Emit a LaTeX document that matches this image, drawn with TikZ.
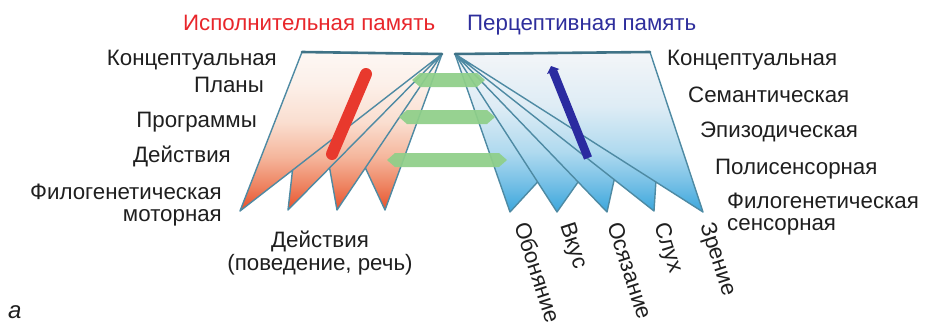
\documentclass[tikz,border=0pt]{standalone}
\usepackage{fontspec}
\setmainfont{Liberation Sans}
\usetikzlibrary{calc,arrows.meta}

\definecolor{foldline}{HTML}{4E8AA3}
\definecolor{rimline}{HTML}{3F7286}
\definecolor{execred}{HTML}{E8262B}
\definecolor{percblue}{HTML}{2E2E9C}
\definecolor{barred}{HTML}{E8392D}
\definecolor{barblue}{HTML}{2B2BA0}
\definecolor{bargreen}{HTML}{8FCF89}

% vertical colour ramps of the two fans (bottom to top)
\pgfdeclareverticalshading{warmramp}{100bp}{%
  color(0bp)=(rgb,255:red,232;green,78;blue,40);
  color(25bp)=(rgb,255:red,232;green,78;blue,40);
  color(33bp)=(rgb,255:red,238;green,132;blue,98);
  color(42bp)=(rgb,255:red,245;green,182;blue,156);
  color(53bp)=(rgb,255:red,250;green,222;blue,208);
  color(65bp)=(rgb,255:red,252;green,240;blue,233);
  color(75bp)=(rgb,255:red,253;green,247;blue,244);
  color(100bp)=(rgb,255:red,253;green,247;blue,244)}
\pgfdeclareverticalshading{coolramp}{100bp}{%
  color(0bp)=(rgb,255:red,58;green,166;blue,220);
  color(25bp)=(rgb,255:red,58;green,166;blue,220);
  color(34bp)=(rgb,255:red,118;green,192;blue,230);
  color(44bp)=(rgb,255:red,176;green,218;blue,239);
  color(58bp)=(rgb,255:red,222;green,236;blue,245);
  color(75bp)=(rgb,255:red,243;green,245;blue,248);
  color(100bp)=(rgb,255:red,243;green,245;blue,248)}

\begin{document}
\begin{tikzpicture}[x=1pt,y=-1pt,
  lbl/.style={inner sep=0pt, font=\fontsize{22.3}{26}\selectfont, text=black!88},
  title/.style={lbl},
  fold/.style={draw=foldline, line width=1.4pt, line join=round},
  rim/.style={draw=rimline, line width=2.6pt, line cap=round},
  greenbar/.style={fill=bargreen, draw=none, opacity=0.93},
  sense/.style={lbl, rotate=-72, anchor=base west}]

\useasboundingbox (0,0) rectangle (927,322);

% ---------- executive (left) fan ----------
\coordinate (LA) at (442,54);
\coordinate (LC) at (302,52);
\coordinate (L1) at (240,211);
\coordinate (L2) at (288,210);
\coordinate (L3) at (337,210);
\coordinate (L4) at (385,210);
\coordinate (LV2) at ($(L1)!0.26!(LA)$);
\coordinate (LV3) at ($(L2)!0.27!(LA)$);
\coordinate (LV4) at ($(L3)!0.27!(LA)$);

\shade[shading=warmramp] (LC) -- (LA) -- (L4) -- (LV4) -- (L3) -- (LV3) -- (L2) -- (LV2) -- (L1) -- cycle;
\draw[fold] (LA) -- (L4) -- (LV4) -- (L3) -- (LV3) -- (L2) -- (LV2) -- (L1) -- (LC);
\draw[fold] (LV2) -- (LA) (LV3) -- (LA) (LV4) -- (LA);
\draw[rim] (LC) -- (LA);

% ---------- perceptive (right) fan ----------
\coordinate (RA) at (455,54);
\coordinate (RC) at (650,52);
\coordinate (R1) at (510,212);
\coordinate (R2) at (557,212);
\coordinate (R3) at (607,212);
\coordinate (R4) at (654,211);
\coordinate (R5) at (703,212);
\coordinate (RV1) at ($(R2)!0.19!(RA)$);
\coordinate (RV2) at ($(R3)!0.19!(RA)$);
\coordinate (RV3) at ($(R4)!0.2!(RA)$);
\coordinate (RV4) at ($(R5)!0.19!(RA)$);

\shade[shading=coolramp] (RA) -- (RC) -- (R5) -- (RV4) -- (R4) -- (RV3) -- (R3) -- (RV2) -- (R2) -- (RV1) -- (R1) -- cycle;
\draw[fold] (RA) -- (R1) -- (RV1) -- (R2) -- (RV2) -- (R3) -- (RV3) -- (R4) -- (RV4) -- (R5) -- (RC);
\draw[fold] (RV1) -- (RA) (RV2) -- (RA) (RV3) -- (RA) (RV4) -- (RA);
\draw[rim] (RA) -- (RC);

% ---------- links between the two memories ----------
\fill[greenbar] (412,80) -- (420,73) -- (477,73) -- (485,80) -- (477,87) -- (420,87) -- cycle;
\fill[greenbar] (399,117) -- (407,110) -- (487,110) -- (495,117) -- (487,124) -- (407,124) -- cycle;
\fill[greenbar] (387,160) -- (395,153) -- (499,153) -- (507,160) -- (499,167) -- (395,167) -- cycle;

% ---------- hierarchy arrows ----------
\coordinate (redlo) at (332,154);
\coordinate (redhi) at (366,74);
\draw[barred, line width=12pt, line cap=round] (redlo) -- (redhi);
\coordinate (bluelo) at (588,158);
\coordinate (bluehi) at (551,66);
\draw[barblue, line width=8.5pt, -{Triangle[width=13pt,length=6pt]}] (bluelo) -- (bluehi);

% ---------- titles ----------
\node[title, text=execred, anchor=base west] (exec) at (183,30) {Исполнительная память};
\node[title, text=percblue, anchor=base west] (perc) at (467,30) {Перцептивная память};

% ---------- left levels ----------
\node[lbl, anchor=base east] (lconc) at (277,65) {Концептуальная};
\node[lbl, anchor=base east] (lplan) at (264,92) {Планы};
\node[lbl, anchor=base east] (lprog) at (257,127) {Программы};
\node[lbl, anchor=base east] (lact)  at (231,162) {Действия};
\node[lbl, anchor=base east] (lphy1) at (222,199) {Филогенетическая};
\node[lbl, anchor=base east] (lphy2) at (222,221) {моторная};

\node[lbl, anchor=base] (out1) at (320,247) {Действия};
\node[lbl, anchor=base] (out2) at (320,270) {(поведение, речь)};

% ---------- right levels ----------
\node[lbl, anchor=base west] (rconc) at (667,65) {Концептуальная};
\node[lbl, anchor=base west] (rsem)  at (688,102) {Семантическая};
\node[lbl, anchor=base west] (repi)  at (700,137) {Эпизодическая};
\node[lbl, anchor=base west] (rpoly) at (715,174) {Полисенсорная};
\node[lbl, anchor=base west] (rphy1) at (727,208) {Филогенетическая};
\node[lbl, anchor=base west] (rphy2) at (727,230) {сенсорная};

% ---------- senses ----------
\node[sense] (smell) at (514,225) {Обоняние};
\node[sense] (taste) at (560,225) {Вкус};
\node[sense] (touch) at (607,225) {Осязание};
\node[sense] (hear)  at (654,225) {Слух};
\node[sense] (sight) at (700,225) {Зрение};

% ---------- panel letter ----------
\node[lbl, font=\fontsize{24}{28}\selectfont\itshape, anchor=base west] (panel) at (8,318) {а};

\end{tikzpicture}
\end{document}
